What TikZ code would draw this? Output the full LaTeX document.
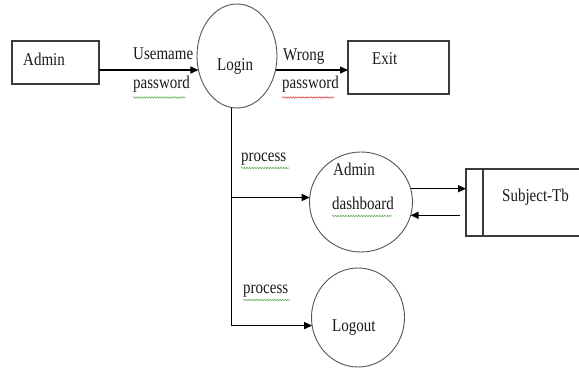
\documentclass[tikz,border=0pt]{standalone}
\usepackage{fontspec}
\setmainfont{Liberation Serif}
\usetikzlibrary{shapes.geometric,arrows.meta,decorations.pathmorphing}
\definecolor{txt}{HTML}{1A1A1A}
\definecolor{boxc}{HTML}{3A3A3A}
\definecolor{circc}{HTML}{555555}
\definecolor{sqg}{RGB}{100,175,90}
\definecolor{sqr}{RGB}{225,70,70}
\newcommand\tx[1]{\scalebox{1}[1.2]{#1}}
\begin{document}
\begin{tikzpicture}[x=1pt,y=-1pt,
  lbl/.style={anchor=base west,inner sep=0pt,text=txt,font=\fontsize{15}{18}\selectfont},
  ent/.style={draw=boxc,line width=1.2pt,rectangle,inner sep=0pt,outer sep=0pt},
  proc/.style={draw=circc,line width=0.9pt,ellipse,inner sep=0pt,outer sep=0pt},
  flow/.style={line width=1.3pt,black,-{Triangle[length=8pt,width=7pt]}},
  plain/.style={line width=1.3pt,black},
  squig/.style={draw=#1,line width=0.6pt,decorate,decoration={snake,amplitude=0.7pt,segment length=2.6pt}}]
\useasboundingbox (0,0) rectangle (579,371);
% entities
\node[ent,minimum width=87pt,minimum height=43pt] (admin) at (55.5,62.5) {};
\node[ent,minimum width=101pt,minimum height=53pt] (exit) at (398.5,67.5) {};
% processes
\node[proc,minimum width=80pt,minimum height=104pt] (login) at (237,56) {};
\node[proc,minimum width=103pt,minimum height=100pt] (dash) at (361,202) {};
\node[proc,minimum width=93pt,minimum height=99pt] (logout) at (358,317.5) {};
% data store
\node[inner sep=0pt,outer sep=0pt,minimum width=113pt,minimum height=67pt] (subj) at (522.5,202.5) {};
\coordinate (divt) at ([xshift=17pt]subj.north west);
\coordinate (divb) at ([xshift=17pt]subj.south west);
\draw[boxc,line width=1.1pt] (subj.north east) -- (subj.north west) -- (subj.south west) -- (subj.south east);
\draw[boxc,line width=1.1pt] (divt) -- (divb);
% texts
\node[lbl] (tadmin) at (23,66) {\tx{Admin}};
\node[lbl] (texit) at (372,65) {\tx{Exit}};
\node[lbl] (tlogin) at (217,71) {\tx{Login}};
\node[lbl] (tdash1) at (333,176) {\tx{Admin}};
\node[lbl] (tdash2) at (332,210) {\tx{dashboard}};
\node[lbl] (tlogout) at (332,332) {\tx{Logout}};
\node[lbl] (tsubj) at (502,202) {\tx{Subject-Tb}};
\node[lbl] (tuser) at (133,60) {\tx{Usemame}};
\node[lbl] (tpass1) at (133,89) {\tx{password}};
\node[lbl] (twrong) at (283,61) {\tx{Wrong}};
\node[lbl] (tpass2) at (282,89) {\tx{password}};
\node[lbl] (tproc1) at (241,162) {\tx{process}};
\node[lbl] (tproc2) at (243,294) {\tx{process}};
% spell-check squiggles
\draw[squig=sqg] (133,97.5) -- (185,97.5);
\draw[squig=sqr] (282,97.5) -- (334,97.5);
\draw[squig=sqg] (241,168) -- (289,168);
\draw[squig=sqg] (243,300) -- (290,300);
\draw[squig=sqg] (332,216) -- (392,216);
% connectors
\draw[flow] (admin.east |- login.200) -- (login.200);
\draw[flow] (login.340) -- (login.340 -| exit.west);
\coordinate (jd) at (login.264 |- dash.175.5);
\coordinate (jl) at (login.264 |- logout.190);
\draw[plain] (login.264) -- (jl);
\draw[flow] (jd) -- (dash.175.5);
\draw[flow] (jl) -- (logout.190);
\draw[flow] (dash.15.8) -- (dash.15.8 -| subj.west);
\draw[flow] ([xshift=-6pt]subj.west |- dash.345.3) -- (dash.345.3);
\end{tikzpicture}
\end{document}
